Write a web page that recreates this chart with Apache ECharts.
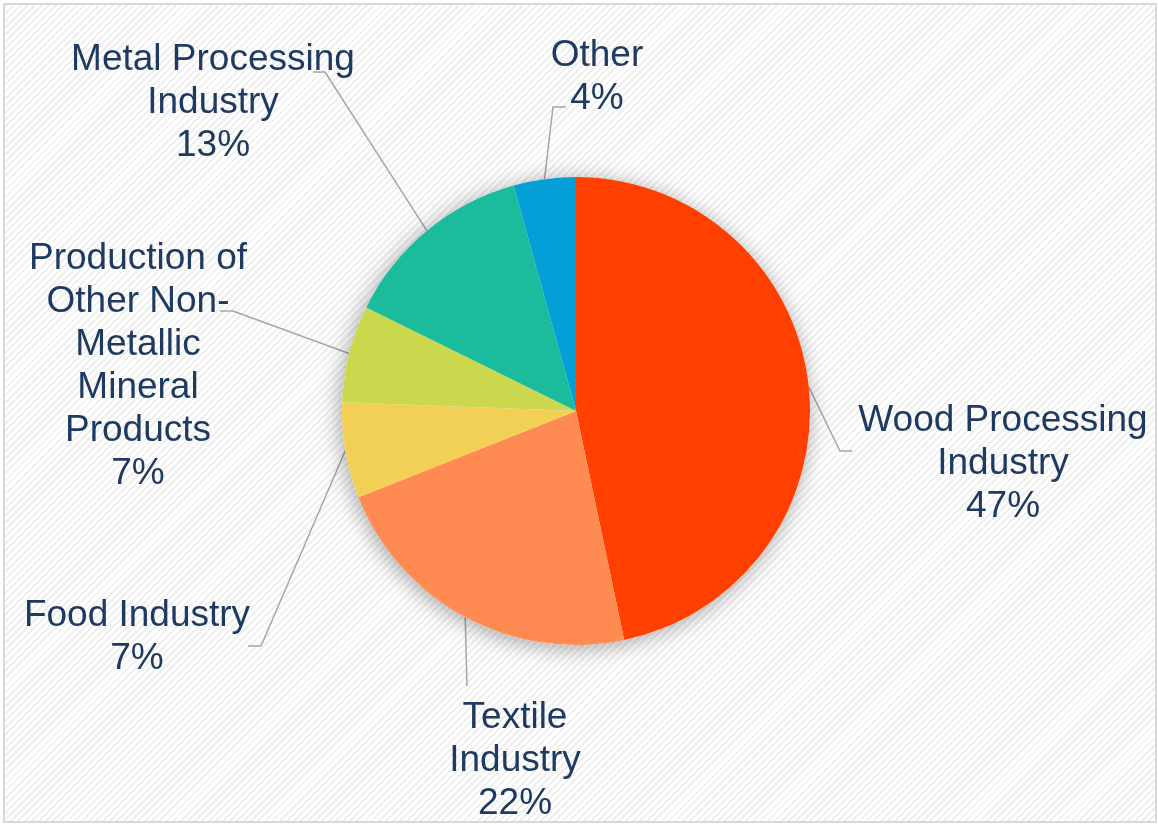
<!DOCTYPE html>
<html>
<head>
<meta charset="utf-8">
<script src="https://cdn.jsdelivr.net/npm/echarts@6/dist/echarts.min.js"></script>
<style>
  html, body { margin: 0; padding: 0; background: #ffffff; }
  #frame {
    position: absolute; left: 3px; top: 3px; width: 1150px; height: 816px;
    border: 2px solid #d9d9d9;
    background: repeating-linear-gradient(-45deg, #ffffff 0px, #ffffff 3px, #efefef 3px, #efefef 5px);
  }
  #chart { position: absolute; left: 0; top: 0; width: 1158px; height: 824px; }
</style>
</head>
<body>
<div id="frame"></div>
<div id="chart"></div>
<script>
// ---- data ----
const categories = [
  'Wood Processing\nIndustry',
  'Textile\nIndustry',
  'Food Industry',
  'Production of\nOther Non-\nMetallic\nMineral\nProducts',
  'Metal Processing\nIndustry',
  'Other'
];
const shares = [46.7, 22.3, 6.6, 6.7, 13.4, 4.3];
const colors = ['#ff4000', '#ff8a52', '#f2cf55', '#cbd84e', '#1bbc9c', '#049fd6'];

// ---- label styling (positions of text block centres, leader attach offsets) ----
const labelPos = [
  [1003, 464],
  [515, 761],
  [137, 637],
  [138, 366],
  [213, 103],
  [597, 77]
];
// [end offset, elbow offset] relative to the label centre
const leaderAttach = [
  [[-151, -13], [-163, -13]],
  [[-48, -75], [-48, -75]],
  [[111, 9], [124, 9]],
  [[82, -55], [95, -55]],
  [[100, -31], [112, -31]],
  [[-31, 30], [-44, 30]]
];

const CENTER = [576, 411];
const RADIUS = 234;

const chart = echarts.init(document.getElementById('chart'), null, { renderer: 'canvas' });

const pieData = categories.map((name, i) => ({
  name: name,
  value: shares[i],
  itemStyle: { color: colors[i] }
}));

const total = shares.reduce((a, b) => a + b, 0);
function midEdgePoint(idx) {
  let cum = 0;
  for (let i = 0; i < idx; i++) cum += shares[i];
  const mid = (cum + shares[idx] / 2) / total * 2 * Math.PI;
  return [CENTER[0] + RADIUS * Math.sin(mid), CENTER[1] - RADIUS * Math.cos(mid)];
}

chart.setOption({
  backgroundColor: 'transparent',
  animation: false,
  series: [
    {
      // shadow disc behind the pie
      type: 'pie',
      silent: true,
      center: CENTER,
      radius: RADIUS,
      label: { show: false },
      labelLine: { show: false },
      itemStyle: {
        color: '#ffffff',
        shadowBlur: 22,
        shadowColor: 'rgba(0,0,0,0.35)',
        shadowOffsetX: -2,
        shadowOffsetY: 3
      },
      data: [{ name: 'bg', value: 1 }]
    },
    {
      type: 'pie',
      center: CENTER,
      radius: RADIUS,
      startAngle: 90,
      clockwise: true,
      avoidLabelOverlap: false,
      itemStyle: { borderWidth: 0 },
      label: {
        show: true,
        position: 'outside',
        fontFamily: 'Liberation Sans, Arial, sans-serif',
        fontSize: 37,
        lineHeight: 43,
        color: '#1f3a60',
        align: 'center',
        formatter: p => p.name + '\n' + Math.round(p.value) + '%'
      },
      labelLine: {
        show: true,
        length: 20,
        length2: 12,
        smooth: false,
        lineStyle: { color: '#a6a6a6', width: 1.5 }
      },
      labelLayout: function (params) {
        const i = params.dataIndex;
        const pos = labelPos[i];
        const start = (params.labelLinePoints && params.labelLinePoints[0]) || midEdgePoint(i);
        const end = [pos[0] + leaderAttach[i][0][0], pos[1] + leaderAttach[i][0][1]];
        const elbow = [pos[0] + leaderAttach[i][1][0], pos[1] + leaderAttach[i][1][1]];
        return {
          x: pos[0],
          y: pos[1],
          align: 'center',
          verticalAlign: 'middle',
          labelLinePoints: [start, elbow, end]
        };
      },
      data: pieData
    }
  ]
});
</script>
</body>
</html>
